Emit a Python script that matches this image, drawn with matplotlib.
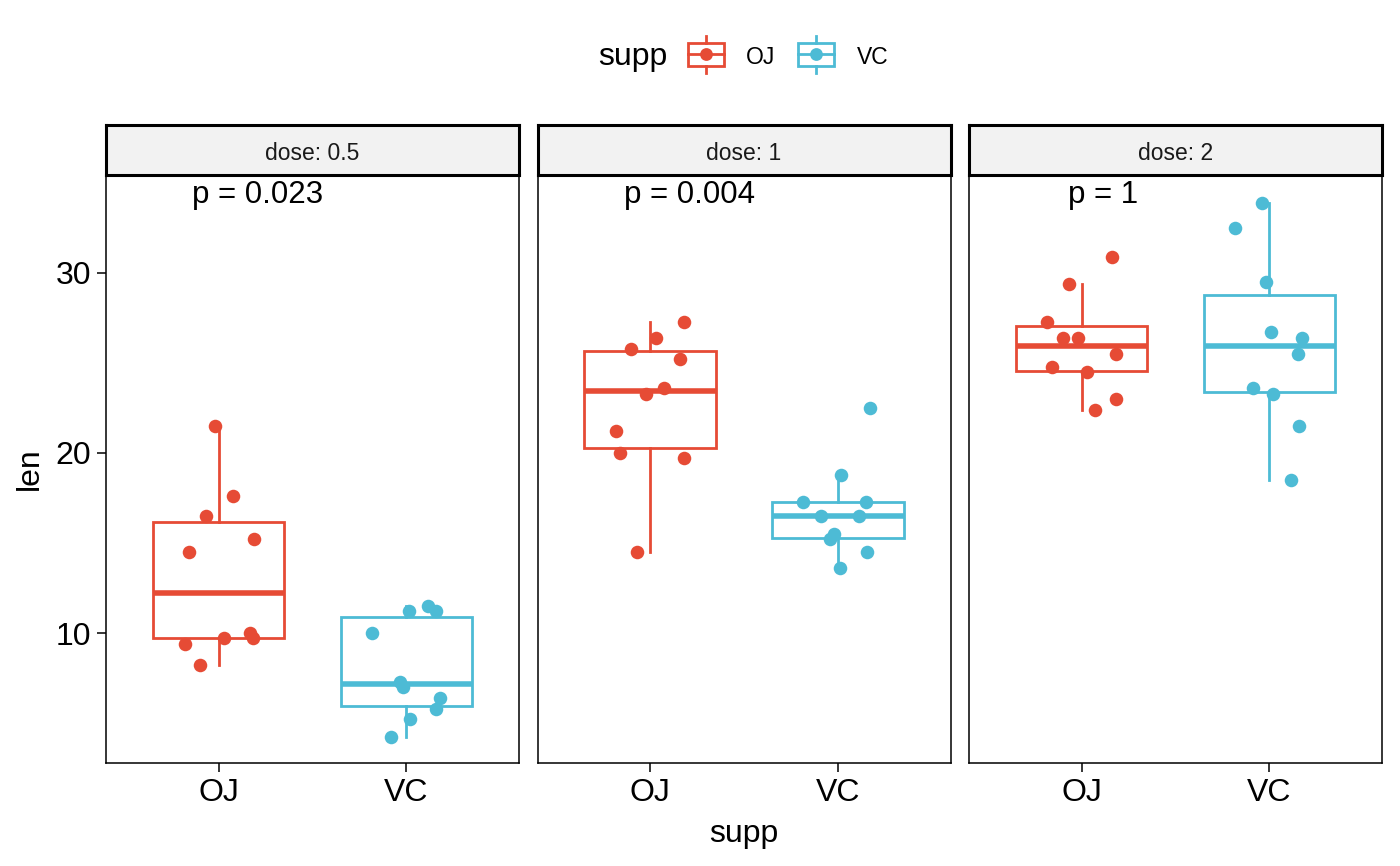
import numpy as np
import matplotlib.pyplot as plt

plt.rcParams['font.family'] = ['Liberation Sans', 'DejaVu Sans']

# ToothGrowth: len by supp, one panel per dose
doses = ["0.5", "1", "2"]
supps = ["OJ", "VC"]
colors = {"OJ": "#E64B35", "VC": "#4DBBD5"}
p_labels = ["p = 0.023", "p = 0.004", "p = 1"]

oj_05 = [15.2, 21.5, 17.6, 9.7, 14.5, 10.0, 8.2, 9.4, 16.5, 9.7]
oj_1 = [19.7, 23.3, 23.6, 26.4, 20.0, 25.2, 25.8, 21.2, 14.5, 27.3]
oj_2 = [25.5, 26.4, 22.4, 24.5, 24.8, 30.9, 26.4, 27.3, 29.4, 23.0]
vc_05 = [4.2, 11.5, 7.3, 5.8, 6.4, 10.0, 11.2, 11.2, 5.2, 7.0]
vc_1 = [16.5, 16.5, 15.2, 17.3, 22.5, 17.3, 13.6, 14.5, 18.8, 15.5]
vc_2 = [23.6, 18.5, 33.9, 25.5, 26.4, 32.5, 26.7, 21.5, 23.3, 29.5]

# horizontal jitter
jit_oj_05 = [0.186, -0.018, 0.075, 0.030, -0.158, 0.165, -0.100, -0.181, -0.066, 0.184]
jit_oj_1 = [0.182, -0.020, 0.072, 0.030, -0.160, 0.160, -0.100, -0.184, -0.069, 0.182]
jit_oj_2 = [0.183, -0.100, 0.070, 0.028, -0.160, 0.160, -0.020, -0.185, -0.069, 0.183]
jit_vc_05 = [-0.084, 0.117, -0.034, 0.156, 0.179, -0.181, 0.012, 0.160, 0.021, -0.016]
jit_vc_1 = [-0.088, 0.113, -0.040, -0.186, 0.173, 0.150, 0.009, 0.153, 0.016, -0.020]
jit_vc_2 = [-0.087, 0.113, -0.039, 0.152, 0.175, -0.184, 0.010, 0.156, 0.018, -0.020]

groups = [
    [(oj_05, jit_oj_05), (vc_05, jit_vc_05)],
    [(oj_1, jit_oj_1), (vc_1, jit_vc_1)],
    [(oj_2, jit_oj_2), (vc_2, jit_vc_2)],
]

W, H = 1400, 866
fig = plt.figure(figsize=(14, 8.66), dpi=100)

# overlay in pixel coords for the legend
lax = fig.add_axes([0, 0, 1, 1])
lax.set_xlim(0, W)
lax.set_ylim(H, 0)
lax.axis('off')

lefts = [106, 537.5, 969]
pw = 413
ptop, pbot = 175, 763
strip_top = 124.5

ymax = max(max(oj_2), max(vc_2))
axes = []
ptexts = []
for i, dose in enumerate(doses):
    ax = fig.add_axes([lefts[i] / W, 1 - pbot / H, pw / W, (pbot - ptop) / H])
    for j, s in enumerate(supps):
        vals, jit = groups[i][j]
        c = colors[s]
        bp = ax.boxplot([vals], positions=[j + 1], widths=0.7, showfliers=False,
                        showcaps=False, patch_artist=True)
        for b in bp['boxes']:
            b.set_facecolor('white')
            b.set_edgecolor(c)
            b.set_linewidth(2.0)
        for w in bp['whiskers']:
            w.set_color(c)
            w.set_linewidth(2.0)
        for m in bp['medians']:
            m.set_color(c)
            m.set_linewidth(4.0)
            m.set_solid_capstyle('butt')
        ax.scatter(np.array(jit) + j + 1, vals, s=95, color=c, linewidths=0, zorder=4)

    ax.set_xlim(0.4, 2.6)
    ax.set_ylim(2.78, 35.44)
    ax.set_xticks([1, 2])
    ax.set_xticklabels(supps)
    ax.set_yticks([10, 20, 30])
    ax.tick_params(direction='out', length=6.5, width=1.1, labelsize=23, pad=4)
    for sp in ax.spines.values():
        sp.set_linewidth(1.1)
    if i > 0:
        ax.tick_params(axis='y', left=False, labelleft=False)

    t = ax.text(1, ymax, p_labels[i], fontsize=22.5, ha='left', va='baseline')
    ptexts.append(t)
    axes.append(ax)

    # facet strip
    sax = fig.add_axes([lefts[i] / W, 1 - ptop / H, pw / W, (ptop - strip_top) / H])
    sax.set_facecolor('#F2F2F2')
    sax.set_xticks([])
    sax.set_yticks([])
    for sp in sax.spines.values():
        sp.set_linewidth(2.2)
    sax.text(0.5, 0.42, "dose: " + dose, fontsize=16.5, color='#1A1A1A',
             ha='center', va='center', transform=sax.transAxes)

fig.text(30 / W, 1 - 469 / H, "len", fontsize=23, rotation=90, ha='center', va='center')
fig.text(744 / W, 1 - 842 / H, "supp", fontsize=23, ha='center', va='baseline')

# legend
lax.text(598, 65.5, "supp", fontsize=23, ha='left', va='baseline')
key_x = [687.5, 798]
lab_x = [745.7, 856.7]
for s, kx, lx in zip(supps, key_x, lab_x):
    c = colors[s]
    kw = 36
    cx = kx + kw / 2
    lax.add_patch(plt.Rectangle((kx, 42.5), kw, 23.5, fill=False, edgecolor=c, lw=2.0))
    lax.plot([kx, kx + kw], [54.3, 54.3], color=c, lw=2.0)
    lax.plot([cx, cx], [36, 42.5], color=c, lw=2.0)
    lax.plot([cx, cx], [66, 72.7], color=c, lw=2.0)
    lax.scatter([cx], [54.3], s=85, color=c, linewidths=0, zorder=5)
    lax.text(lx, 64, s, fontsize=16.5, ha='left', va='baseline')

# p labels sit with ~0.2 of their width left of x = 1
fig.canvas.draw()
for ax, t in zip(axes, ptexts):
    bb = t.get_window_extent()
    inv = ax.transData.inverted()
    w = inv.transform((bb.x1, 0))[0] - inv.transform((bb.x0, 0))[0]
    t.set_x(1 - 0.2 * w)

fig.savefig("out.png", dpi=100)
